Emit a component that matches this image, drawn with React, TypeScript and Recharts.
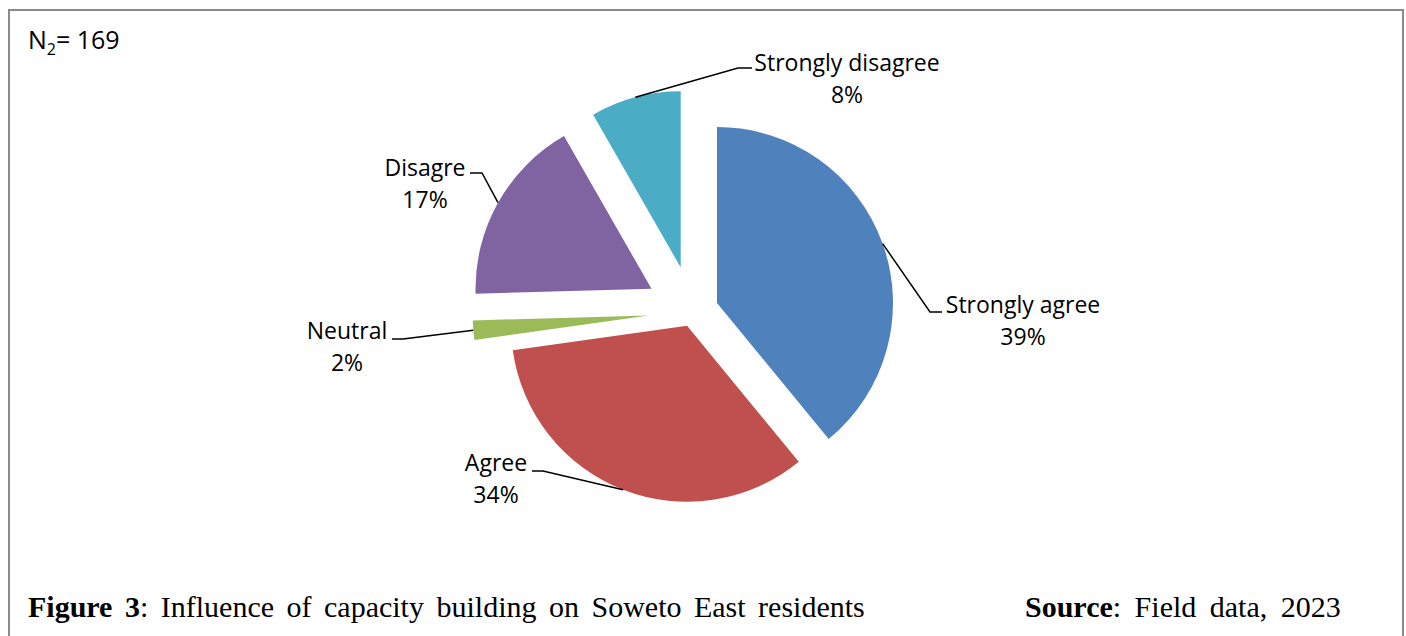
import React from 'react';
import { PieChart, Pie, Cell, Sector } from 'recharts';

// ---- data ----
const CATEGORIES = ['Strongly agree', 'Agree', 'Neutral', 'Disagre', 'Strongly disagree'];
const COUNTS = [66, 57, 3, 29, 14];
const SAMPLE_LABEL = 'N';
const SAMPLE_SUB = '2';
const SAMPLE_SIZE = '= 169';
const CAPTION_BOLD = 'Figure 3';
const CAPTION_TEXT = ': Influence of capacity building on Soweto East residents';
const SOURCE_BOLD = 'Source';
const SOURCE_TEXT = ': Field data, 2023';

// ---- styles ----
const COLORS = ['#4F81BD', '#C0504D', '#9BBB59', '#8064A2', '#4BACC6'];
const EXPLODE = [26, 15, 44, 47, 46];
const LABEL_LAYOUT = [
  { elbow: [930, 312], end: [942, 312], tx: 1023, ty: 313 },
  { elbow: [543, 471], end: [532, 471], tx: 496, ty: 471 },
  { elbow: [403, 339], end: [392, 339], tx: 347, ty: 339 },
  { elbow: [482, 173], end: [470, 173], tx: 425, ty: 176 },
  { elbow: [738, 68], end: [752, 68], tx: 847, ty: 71 },
];
const W = 1406;
const H = 636;
const RAD = Math.PI / 180;
const LABEL_FONT = '"Open Sans", sans-serif';
const SERIF = '"Liberation Serif", "Times New Roman", serif';

const data = CATEGORIES.map((name, i) => ({ name, value: COUNTS[i] }));

const idxOf = (p: any) => {
  const n = p.name ?? (p.payload && p.payload.name);
  return CATEGORIES.indexOf(n);
};

const ExplodedSector = (props: any) => {
  const i = idxOf(props);
  const d = i >= 0 ? EXPLODE[i] : 0;
  const dx = d * Math.cos(-props.midAngle * RAD);
  const dy = d * Math.sin(-props.midAngle * RAD);
  return <Sector {...props} cx={props.cx + dx} cy={props.cy + dy} stroke="none" />;
};

const renderLabel = (props: any) => {
  const i = idxOf(props);
  if (i < 0) return null;
  const { cx, cy, midAngle, outerRadius, percent } = props;
  const r = outerRadius + EXPLODE[i];
  const sx = cx + r * Math.cos(-midAngle * RAD);
  const sy = cy + r * Math.sin(-midAngle * RAD);
  const L = LABEL_LAYOUT[i];
  return (
    <g key={`lbl-${i}`}>
      <path
        d={`M${sx},${sy}L${L.elbow[0]},${L.elbow[1]}L${L.end[0]},${L.end[1]}`}
        stroke="#000"
        strokeWidth={1.5}
        fill="none"
      />
      <text x={L.tx} y={L.ty} textAnchor="middle" fontFamily={LABEL_FONT} fontSize={23} fill="#000">
        {CATEGORIES[i]}
      </text>
      <text x={L.tx} y={L.ty + 32} textAnchor="middle" fontFamily={LABEL_FONT} fontSize={23} fill="#000">
        {`${Math.round(percent * 100)}%`}
      </text>
    </g>
  );
};

export default function App() {
  return (
    <div style={{ position: 'absolute', left: 0, top: 0, width: W, height: H, background: '#fff' }}>
      <svg width={W} height={H} style={{ position: 'absolute', left: 0, top: 0 }}>
        <rect x={9} y={10} width={1394} height={H} fill="none" stroke="#8a8a8a" strokeWidth={2} />
        <text x={28} y={49} fontFamily={LABEL_FONT} fontSize={25} fill="#000">
          {SAMPLE_LABEL}
          <tspan dy={6} fontSize={16}>{SAMPLE_SUB}</tspan>
          <tspan dy={-6}>{SAMPLE_SIZE}</tspan>
        </text>
        <text x={28} y={617} fontFamily={SERIF} fontSize={30} fill="#000" style={{ wordSpacing: '5px' }}>
          <tspan fontWeight="bold">{CAPTION_BOLD}</tspan>
          <tspan>{CAPTION_TEXT}</tspan>
        </text>
        <text x={1025} y={617} fontFamily={SERIF} fontSize={30} fill="#000" style={{ wordSpacing: '6px' }}>
          <tspan fontWeight="bold">{SOURCE_BOLD}</tspan>
          <tspan>{SOURCE_TEXT}</tspan>
        </text>
      </svg>
      <div style={{ position: 'absolute', left: 0, top: 0 }}>
        <PieChart width={W} height={H} margin={{ top: 0, right: 0, bottom: 0, left: 0 }}>
          <Pie
            data={data}
            dataKey="value"
            nameKey="name"
            cx={692.5}
            cy={311.8}
            outerRadius={176}
            startAngle={90}
            endAngle={-270}
            stroke="none"
            isAnimationActive={false}
            shape={ExplodedSector}
            activeShape={ExplodedSector}
            inactiveShape={ExplodedSector}
            label={renderLabel}
            labelLine={false}
          >
            {data.map((d, i) => (
              <Cell key={d.name} fill={COLORS[i]} />
            ))}
          </Pie>
        </PieChart>
      </div>
    </div>
  );
}
